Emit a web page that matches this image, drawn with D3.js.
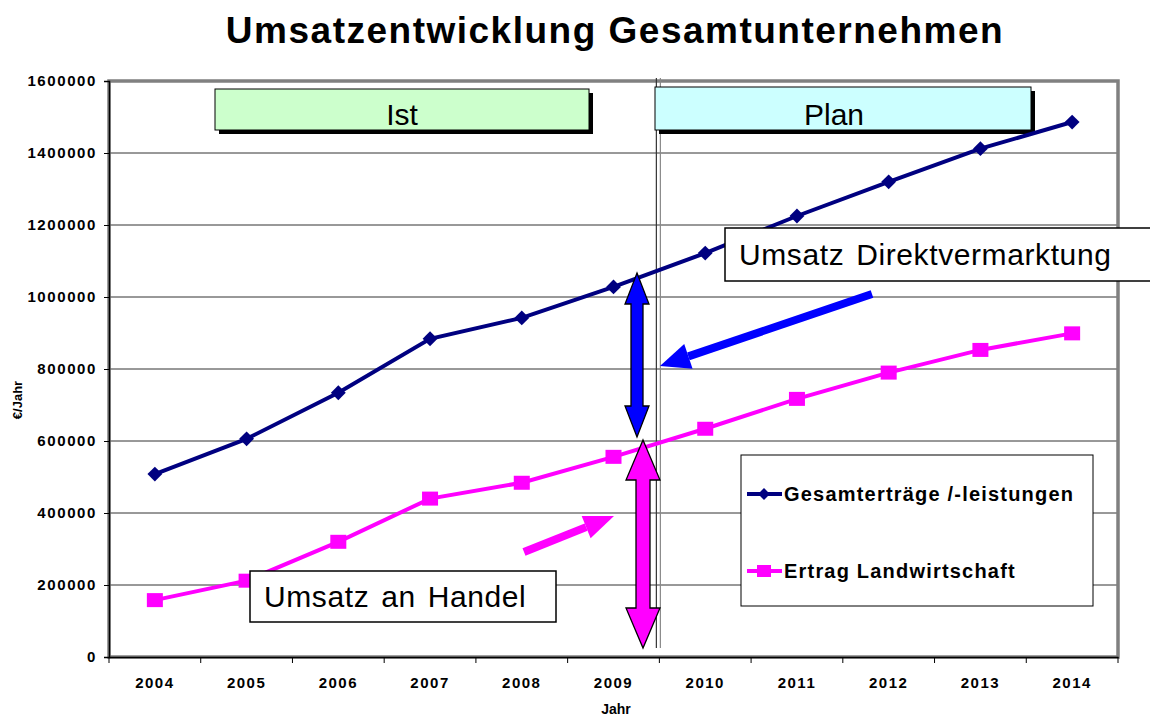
<!DOCTYPE html>
<html>
<head>
<meta charset="utf-8">
<script src="https://cdn.jsdelivr.net/npm/d3@7"></script>
<style>
  body { margin: 0; background: #fff; }
  svg { font-family: "Liberation Sans", Arial, sans-serif; }
</style>
</head>
<body>
<svg id="chart" width="1150" height="718"></svg>
<script>
const years = ["2004", "2005", "2006", "2007", "2008", "2009", "2010", "2011", "2012", "2013", "2014"];
const gesamt = [508000, 606000, 734000, 884000, 942000, 1028000, 1122000, 1225000, 1320000, 1412000, 1486000];
const landwirtschaft = [158000, 212000, 320000, 440000, 484000, 556000, 634000, 717000, 790000, 853000, 899000];
const yTicks = [0, 200000, 400000, 600000, 800000, 1000000, 1200000, 1400000, 1600000];
const seriesNames = ["Gesamterträge /-leistungen", "Ertrag Landwirtschaft"];

const svg = d3.select("#chart");
const margin = { top: 81, right: 32, bottom: 61, left: 109 };
const width = 1150, height = 718;

const x = d3.scaleBand().domain(years).range([margin.left, width - margin.right]);
const y = d3.scaleLinear().domain([0, 1600000]).range([height - margin.bottom, margin.top]);
const cx = d => x(d) + x.bandwidth() / 2;

// title
svg.append("text")
  .attr("x", 615).attr("y", 43)
  .attr("text-anchor", "middle")
  .attr("font-size", 37).attr("font-weight", "bold")
  .attr("letter-spacing", 1.5)
  .text("Umsatzentwicklung Gesamtunternehmen");

// gridlines
svg.append("g")
  .selectAll("line")
  .data(yTicks.slice(1, -1))
  .join("line")
  .attr("x1", margin.left).attr("x2", width - margin.right)
  .attr("y1", d => y(d)).attr("y2", d => y(d))
  .attr("stroke", "#333").attr("stroke-width", 1);

// plot frame (gray shadow on top/right)
svg.append("rect")
  .attr("x", margin.left).attr("y", margin.top)
  .attr("width", width - margin.left - margin.right)
  .attr("height", height - margin.top - margin.bottom)
  .attr("fill", "none").attr("stroke", "#808080").attr("stroke-width", 3.5);

// axes
const yAxis = svg.append("g")
  .attr("transform", `translate(${margin.left},0)`)
  .call(d3.axisLeft(y).tickValues(yTicks).tickFormat(d3.format("d")).tickSize(5));
yAxis.select(".domain").attr("stroke", "#000").attr("stroke-width", 1.5);
yAxis.selectAll("text").attr("font-size", 15).attr("font-weight", "bold")
  .attr("letter-spacing", 1.6).attr("fill", "#000").attr("dx", -4);

const xAxis = svg.append("g")
  .attr("transform", `translate(0,${height - margin.bottom})`)
  .call(d3.axisBottom(x).tickSize(0).tickPadding(20));
xAxis.select(".domain").attr("stroke", "#000").attr("stroke-width", 1.5);
xAxis.selectAll("text").attr("font-size", 15).attr("font-weight", "bold")
  .attr("letter-spacing", 1.5).attr("fill", "#000");
// category boundary ticks
xAxis.append("g").selectAll("line")
  .data(years.concat(["end"]))
  .join("line")
  .attr("x1", (d, i) => margin.left + i * x.bandwidth())
  .attr("x2", (d, i) => margin.left + i * x.bandwidth())
  .attr("y1", 0).attr("y2", 6)
  .attr("stroke", "#000");

svg.append("text")
  .attr("x", 616).attr("y", 714)
  .attr("text-anchor", "middle")
  .attr("font-size", 14).attr("font-weight", "bold")
  .text("Jahr");
svg.append("text")
  .attr("transform", "translate(22,400) rotate(-90)")
  .attr("text-anchor", "middle")
  .attr("font-size", 13).attr("font-weight", "bold")
  .text("€/Jahr");

// Ist / Plan divider (double line)
const divX = x("2010");
svg.append("line").attr("x1", divX - 3).attr("x2", divX - 3).attr("y1", 78).attr("y2", 648)
  .attr("stroke", "#333").attr("stroke-width", 1.2);
svg.append("line").attr("x1", divX + 1).attr("x2", divX + 1).attr("y1", 78).attr("y2", 648)
  .attr("stroke", "#888").attr("stroke-width", 1.2);

// label boxes
function shadowBox(x0, y0, w, h, fill, label, dx) {
  svg.append("rect").attr("x", x0 + 4).attr("y", y0 + 4).attr("width", w).attr("height", h).attr("fill", "#000");
  svg.append("rect").attr("x", x0).attr("y", y0).attr("width", w).attr("height", h)
    .attr("fill", fill).attr("stroke", "#000").attr("stroke-width", 1);
  svg.append("text").attr("x", x0 + w / 2 + dx).attr("y", y0 + h - 5)
    .attr("text-anchor", "middle").attr("font-size", 30).text(label);
}
shadowBox(215, 89, 374, 41, "#ccffcc", "Ist", 0);
shadowBox(655, 87, 376, 43, "#ccffff", "Plan", -9);

function plainBox(x0, y0, w, h, label) {
  svg.append("rect").attr("x", x0).attr("y", y0).attr("width", w).attr("height", h)
    .attr("fill", "#fff").attr("stroke", "#000").attr("stroke-width", 1.5);
  svg.append("text").attr("x", x0 + 14).attr("y", y0 + h / 2 + 10)
    .attr("font-size", 30).attr("letter-spacing", 0.6).attr("word-spacing", 3).text(label);
}

// series lines
const line = d3.line().x(d => cx(d[0])).y(d => y(d[1]));
svg.append("path")
  .datum(d3.zip(years, gesamt))
  .attr("d", line).attr("fill", "none").attr("stroke", "#000080").attr("stroke-width", 4);
svg.append("path")
  .datum(d3.zip(years, landwirtschaft))
  .attr("d", line).attr("fill", "none").attr("stroke", "#ff00ff").attr("stroke-width", 4);

const diamond = d3.symbol().type(d3.symbolDiamond2).size(140);
svg.append("g").selectAll("path")
  .data(d3.zip(years, gesamt))
  .join("path")
  .attr("transform", d => `translate(${cx(d[0])},${y(d[1])})`)
  .attr("d", diamond).attr("fill", "#000080");
svg.append("g").selectAll("rect")
  .data(d3.zip(years, landwirtschaft))
  .join("rect")
  .attr("x", d => cx(d[0]) - 8).attr("y", d => y(d[1]) - 7)
  .attr("width", 16).attr("height", 14).attr("fill", "#ff00ff");

// text annotation boxes
plainBox(725, 228, 440, 53, "Umsatz Direktvermarktung");
plainBox(250, 571, 306, 51, "Umsatz an Handel");

// double arrows
function doubleArrow(xc, top, bottom, shaftW, headW, headL, fill) {
  const s = shaftW / 2, h = headW / 2;
  const pts = [
    [xc, top], [xc + h, top + headL], [xc + s, top + headL],
    [xc + s, bottom - headL], [xc + h, bottom - headL], [xc, bottom],
    [xc - h, bottom - headL], [xc - s, bottom - headL], [xc - s, top + headL],
    [xc - h, top + headL]
  ];
  svg.append("path").attr("d", d3.line()(pts) + "Z")
    .attr("fill", fill).attr("stroke", "#000").attr("stroke-width", 1.3);
}
doubleArrow(637, 273, 437, 12, 24, 31, "#0000ff");
doubleArrow(643, 440, 648, 14, 34, 40, "#ff00ff");

// pointer arrows
function pointer(x1, y1, x2, y2, w, headW, headL, color) {
  const a = Math.atan2(y2 - y1, x2 - x1);
  const bx = x2 - headL * Math.cos(a), by = y2 - headL * Math.sin(a);
  svg.append("line").attr("x1", x1).attr("y1", y1).attr("x2", bx).attr("y2", by)
    .attr("stroke", color).attr("stroke-width", w);
  const px = -Math.sin(a) * headW / 2, py = Math.cos(a) * headW / 2;
  svg.append("path")
    .attr("d", d3.line()([[x2, y2], [bx + px, by + py], [bx - px, by - py]]) + "Z")
    .attr("fill", color);
}
pointer(872, 294, 660, 366, 8, 26, 30, "#0000ff");
pointer(524, 552, 614, 516, 8, 24, 30, "#ff00ff");

// legend
svg.append("rect").attr("x", 741).attr("y", 455).attr("width", 352).attr("height", 151)
  .attr("fill", "#fff").attr("stroke", "#000").attr("stroke-width", 1);
const lg = svg.append("g");
const legendY = [494, 571];
lg.append("line").attr("x1", 747).attr("x2", 782).attr("y1", legendY[0]).attr("y2", legendY[0])
  .attr("stroke", "#000080").attr("stroke-width", 4);
lg.append("path").attr("transform", `translate(764,${legendY[0]})`)
  .attr("d", d3.symbol().type(d3.symbolDiamond2).size(90)).attr("fill", "#000080");
lg.append("line").attr("x1", 747).attr("x2", 782).attr("y1", legendY[1]).attr("y2", legendY[1])
  .attr("stroke", "#ff00ff").attr("stroke-width", 4);
lg.append("rect").attr("x", 757).attr("y", legendY[1] - 6).attr("width", 14).attr("height", 12).attr("fill", "#ff00ff");
lg.selectAll("text")
  .data(seriesNames)
  .join("text")
  .attr("x", 784).attr("y", (d, i) => legendY[i] + 7)
  .attr("font-size", 20).attr("font-weight", "bold").attr("letter-spacing", 1.2)
  .text(d => d);
</script>
</body>
</html>
